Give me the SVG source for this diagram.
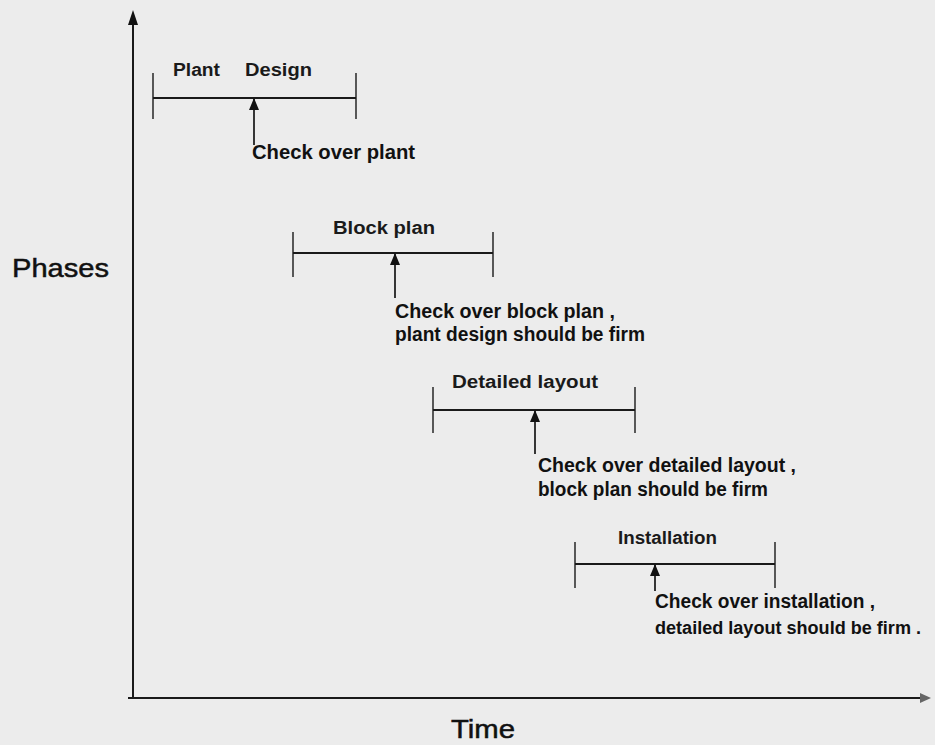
<svg xmlns="http://www.w3.org/2000/svg" width="935" height="745" viewBox="0 0 935 745">
<defs>
<style>
.ln{stroke:#1a1a1a;stroke-width:2;fill:none}
.tk{stroke:#333;stroke-width:1.6;fill:none}
.ar{stroke:#222;stroke-width:1.8;fill:none}
.t{font-family:"Liberation Sans",Arial,sans-serif;font-weight:bold;font-size:20px;fill:#111}
.lb{font-family:"Liberation Sans",Arial,sans-serif;font-weight:bold;font-size:18px;fill:#1a1a1a}
.big{font-family:"Liberation Sans",Arial,sans-serif;font-size:26px;fill:#111;stroke:#111;stroke-width:0.5}
</style>
<marker id="ah" viewBox="0 0 12 10" refX="11" refY="5" markerWidth="12" markerHeight="10" markerUnits="userSpaceOnUse" orient="auto">
<path d="M0,0 L12,5 L0,10 Z" fill="#111"/>
</marker>
</defs>
<rect width="935" height="745" fill="#ececec"/>
<g id="axes">
<line class="ln" x1="133" y1="698" x2="133" y2="20"/>
<path d="M128,25 L133,10 L138,25 Z" fill="#111"/>
<line class="ln" x1="128" y1="698" x2="924" y2="698"/>
<path d="M920,693 L931,698 L920,703 Z" fill="#666"/>
<text class="big" x="12" y="277" textLength="97" lengthAdjust="spacingAndGlyphs">Phases</text>
<text class="big" x="451" y="738" textLength="64" lengthAdjust="spacingAndGlyphs">Time</text>
</g>
<g id="plant-design">
<line class="tk" x1="153" y1="73" x2="153" y2="119"/>
<line class="tk" x1="356" y1="73" x2="356" y2="119"/>
<line class="ln" x1="153" y1="98" x2="356" y2="98"/>
<text class="lb" x="173" y="76" textLength="47" lengthAdjust="spacingAndGlyphs">Plant</text>
<text class="lb" x="245" y="76" textLength="67" lengthAdjust="spacingAndGlyphs">Design</text>
</g>
<g id="block-plan">
<line class="tk" x1="293" y1="232" x2="293" y2="277"/>
<line class="tk" x1="493" y1="232" x2="493" y2="277"/>
<line class="ln" x1="293" y1="253" x2="493" y2="253"/>
<text class="lb" x="333" y="234" textLength="102" lengthAdjust="spacingAndGlyphs">Block plan</text>
</g>
<g id="detailed-layout">
<line class="tk" x1="433" y1="387" x2="433" y2="433"/>
<line class="tk" x1="635" y1="387" x2="635" y2="433"/>
<line class="ln" x1="433" y1="410" x2="635" y2="410"/>
<text class="lb" x="452" y="388" textLength="146" lengthAdjust="spacingAndGlyphs">Detailed layout</text>
</g>
<g id="installation">
<line class="tk" x1="575" y1="542" x2="575" y2="588"/>
<line class="tk" x1="775" y1="542" x2="775" y2="588"/>
<line class="ln" x1="575" y1="564" x2="775" y2="564"/>
<text class="lb" x="618" y="544" textLength="99" lengthAdjust="spacingAndGlyphs">Installation</text>
</g>
<g id="connectors">
<line class="ar" x1="254" y1="145" x2="254" y2="99" marker-end="url(#ah)"/>
<line class="ar" x1="395" y1="298" x2="395" y2="254" marker-end="url(#ah)"/>
<line class="ar" x1="535" y1="454" x2="535" y2="411" marker-end="url(#ah)"/>
<line class="ar" x1="655" y1="591" x2="655" y2="565" marker-end="url(#ah)"/>
</g>
<g id="check-notes">
<text class="t" x="252" y="159" textLength="163" lengthAdjust="spacingAndGlyphs">Check over plant</text>
<text class="t" x="395" y="318" textLength="220" lengthAdjust="spacingAndGlyphs">Check over block plan ,</text>
<text class="t" x="395" y="341" textLength="250" lengthAdjust="spacingAndGlyphs">plant design should be firm</text>
<text class="t" x="538" y="472" textLength="258" lengthAdjust="spacingAndGlyphs">Check over detailed layout ,</text>
<text class="t" x="538" y="496" textLength="230" lengthAdjust="spacingAndGlyphs">block plan should be firm</text>
<text class="t" x="655" y="608" textLength="220" lengthAdjust="spacingAndGlyphs">Check over installation ,</text>
<text class="t" x="655" y="634" style="font-size:18px" textLength="266" lengthAdjust="spacingAndGlyphs">detailed layout should be firm .</text>
</g>
</svg>
